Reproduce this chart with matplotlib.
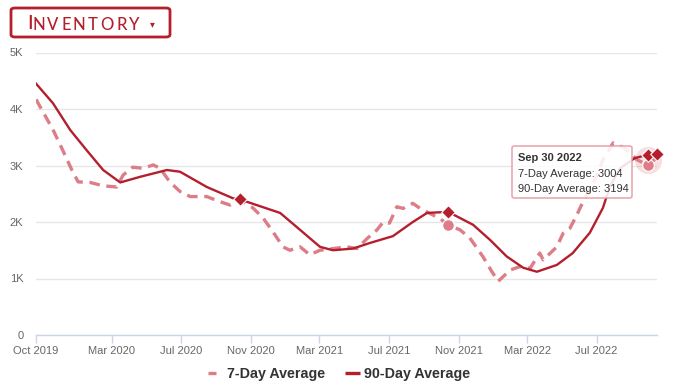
import numpy as np
import pandas as pd
import matplotlib
matplotlib.use("Agg")
import matplotlib.pyplot as plt
from matplotlib.patches import FancyBboxPatch

plt.rcParams['font.family'] = ['Liberation Sans', 'DejaVu Sans']

# 90-day average (solid)
d90_dates = ["2019-10-20", "2019-11-19", "2019-12-19", "2020-01-17", "2020-02-15", "2020-03-16",
             "2020-04-20", "2020-06-06", "2020-06-29", "2020-08-15", "2020-09-30", "2020-10-12",
             "2020-12-22", "2021-01-26", "2021-03-02", "2021-03-25", "2021-04-29", "2021-05-29",
             "2021-07-08", "2021-08-12", "2021-09-06", "2021-10-13", "2021-11-26", "2021-12-26",
             "2022-01-24", "2022-02-22", "2022-03-18", "2022-04-22", "2022-05-20", "2022-06-19",
             "2022-07-12", "2022-07-24", "2022-08-11", "2022-09-06", "2022-09-30", "2022-10-15"]
d90_vals = [4450, 4100, 3630, 3270, 2920, 2700,
            2800, 2920, 2890, 2620, 2420, 2400,
            2160, 1860, 1560, 1500, 1530, 1630,
            1750, 2000, 2160, 2180, 1950, 1680,
            1390, 1190, 1120, 1240, 1450, 1810,
            2250, 2620, 2950, 3130, 3194, 3200]

# 7-day average (dashed)
d7_dates = ["2019-10-20", "2019-11-19", "2019-12-06", "2019-12-22", "2020-01-02", "2020-01-23",
            "2020-02-15", "2020-03-10", "2020-03-21", "2020-04-07", "2020-04-25", "2020-05-13",
            "2020-05-25", "2020-06-11", "2020-06-29", "2020-07-17", "2020-08-15", "2020-09-07",
            "2020-09-25", "2020-10-12", "2020-11-04", "2020-11-22", "2020-12-09", "2020-12-27",
            "2021-01-08", "2021-01-26", "2021-02-12", "2021-03-02", "2021-03-25", "2021-04-18",
            "2021-05-06", "2021-05-24", "2021-06-10", "2021-06-21", "2021-07-02", "2021-07-15",
            "2021-07-26", "2021-08-12", "2021-08-25", "2021-09-11", "2021-09-29", "2021-10-13",
            "2021-11-03", "2021-11-20", "2021-12-13", "2021-12-29", "2022-01-09", "2022-01-30",
            "2022-02-16", "2022-03-06", "2022-03-23", "2022-03-29", "2022-04-22", "2022-05-03",
            "2022-05-15", "2022-05-27", "2022-06-07", "2022-06-25", "2022-07-12", "2022-07-30",
            "2022-08-20", "2022-09-10", "2022-09-30", "2022-10-15"]
d7_vals = [4170, 3630, 3270, 2920, 2710, 2700,
           2640, 2620, 2830, 2970, 2950, 3010,
           2950, 2710, 2540, 2450, 2450, 2360,
           2300, 2400, 2250, 2070, 1830, 1560,
           1500, 1560, 1420, 1500, 1530, 1560,
           1530, 1710, 1860, 2000, 1980, 2270,
           2240, 2330, 2240, 2150, 2060, 1950,
           1860, 1720, 1390, 1120, 950, 1150,
           1210, 1180, 1450, 1330, 1560, 1800,
           1890, 2120, 2360, 2680, 3100, 3400,
           3300, 3100, 3004, 3150]

tick_dates = ["2019-10-20", "2020-03-01", "2020-07-01", "2020-11-01", "2021-03-01",
              "2021-07-01", "2021-11-01", "2022-03-01", "2022-07-01"]
tick_labels = ["Oct 2019", "Mar 2020", "Jul 2020", "Nov 2020", "Mar 2021",
               "Jul 2021", "Nov 2021", "Mar 2022", "Jul 2022"]
y_ticks = [0, 1000, 2000, 3000, 4000, 5000]
y_labels = ["0", "1K", "2K", "3K", "4K", "5K"]

# hovered points
hover_dates = ["2020-10-12", "2021-10-13", "2022-09-30", "2022-10-15"]
hover_90 = [2400, 2180, 3194, 3200]
hover7_dates = ["2021-10-13", "2022-09-30"]
hover_7 = [1950, 3004]

dark = "#b41f2d"
light = "#dc7d88"

W, H = 678, 392
fig = plt.figure(figsize=(W / 100, H / 100), dpi=100)
ax = fig.add_axes([36 / W, (H - 335) / H, (657 - 36) / W, (335 - 52.5) / H])

x90 = pd.to_datetime(d90_dates)
x7 = pd.to_datetime(d7_dates)

ax.plot(x7, d7_vals, color=light, lw=2.4, dashes=(3.2, 2.0), dash_capstyle='butt',
        solid_joinstyle='round', zorder=3)
ax.plot(x90, d90_vals, color=dark, lw=1.7, solid_joinstyle='round', zorder=4)

# halo on hovered point
ax.scatter(pd.to_datetime(["2022-09-30"]), [3100], s=380, color=light, alpha=0.25, lw=0, zorder=2, clip_on=False)
ax.scatter(pd.to_datetime(hover7_dates), hover_7, s=70, color=light, edgecolor='white', lw=0.8, zorder=5, clip_on=False)
ax.scatter(pd.to_datetime(hover_dates), hover_90, s=48, marker='D', color=dark, edgecolor='white', lw=0.8, zorder=6, clip_on=False)

ax.set_xlim(pd.Timestamp("2019-10-20"), pd.Timestamp("2022-10-15"))
ax.set_ylim(0, 5000)
ax.set_yticks(y_ticks)
ax.set_yticklabels(y_labels)
ax.set_xticks(pd.to_datetime(tick_dates))
ax.set_xticklabels(tick_labels)

for s in ["top", "right", "left"]:
    ax.spines[s].set_visible(False)
ax.spines["bottom"].set_color("#ccd6eb")
ax.spines["bottom"].set_linewidth(1)
ax.grid(axis='y', color="#e6e6e6", lw=1)
ax.set_axisbelow(True)
ax.tick_params(axis='y', length=0, pad=9, labelsize=8, labelcolor="#666666")
ax.tick_params(axis='x', length=6, width=1, color="#ccd6eb", pad=2, labelsize=8, labelcolor="#666666")

# legend
h7 = plt.Line2D([], [], color=light, lw=2.4, dashes=(2.4, 3), dash_capstyle='butt')
h90 = plt.Line2D([], [], color=dark, lw=2.4, solid_capstyle='butt')
leg = fig.legend(handles=[h7, h90], labels=["7-Day Average", "90-Day Average"], loc='center',
                 bbox_to_anchor=(0.5, (H - 374) / H), ncol=2, frameon=False,
                 handlelength=1.05, columnspacing=1.4, handletextpad=0.25,
                 prop={'weight': 'bold', 'size': 10.3})
for t in leg.get_texts():
    t.set_color("#333333")

# tooltip
tip = FancyBboxPatch((512 / W, (H - 198) / H), 120 / W, 52 / H,
                     boxstyle="round,pad=0,rounding_size=0.004", transform=fig.transFigure,
                     facecolor=(1, 1, 1, 0.88), edgecolor="#e59aa2", lw=1, zorder=10)
fig.add_artist(tip)
fig.text(518 / W, (H - 158) / H, "Sep 30 2022", fontsize=8, weight='bold', color="#333333", va='center', zorder=11)
fig.text(518 / W, (H - 174) / H, "7-Day Average: 3004", fontsize=8, color="#333333", va='center', zorder=11)
fig.text(518 / W, (H - 189) / H, "90-Day Average: 3194", fontsize=8, color="#333333", va='center', zorder=11)

# title button (small caps drawn letter by letter)
btn = FancyBboxPatch((11 / W, (H - 37) / H), 159 / W, 29 / H,
                     boxstyle="round,pad=0,rounding_size=0.006", transform=fig.transFigure,
                     facecolor='white', edgecolor=dark, lw=2)
fig.add_artist(btn)
fig.text(30 / W, (H - 23.5) / H, "I", fontsize=14.5, color=dark, ha='center', va='center',
         family='Lato', weight='medium')
letters = ["N", "V", "E", "N", "T", "O", "R", "Y"]
letter_x = [39, 52.5, 66, 79, 92.5, 106.5, 122, 134]
for ch, lx in zip(letters, letter_x):
    fig.text(lx / W, (H - 24.5) / H, ch, fontsize=12, color=dark, ha='center', va='center',
             family='Lato', weight='medium')
fig.text(152 / W, (H - 24) / H, "\u25be", fontsize=7, color=dark, ha='center', va='center')
fig.text(14 / W, (H + 3) / H, "\u2022  Click for more charts.", fontsize=8, color="#333333", va='center')

fig.savefig("out.png", dpi=100)
